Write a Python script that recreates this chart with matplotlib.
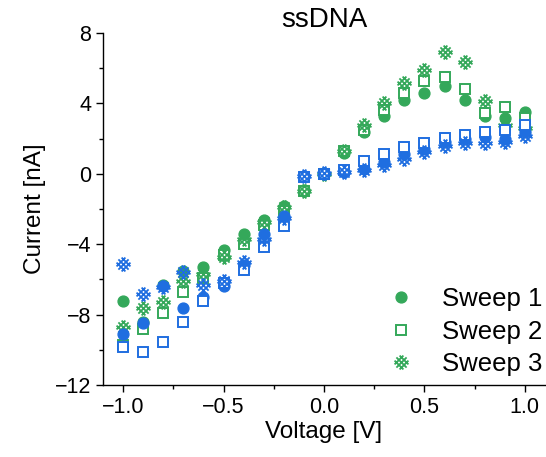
import numpy as np
import matplotlib
matplotlib.use('Agg')
import matplotlib.pyplot as plt
from matplotlib.path import Path
from matplotlib.ticker import MultipleLocator, FuncFormatter

plt.rcParams['font.family'] = ['Liberation Sans', 'DejaVu Sans']

# voltage sweep points
V = [-1.0, -0.9, -0.8, -0.7, -0.6, -0.5, -0.4, -0.3, -0.2, -0.1, 0.0,
     0.1, 0.2, 0.3, 0.4, 0.5, 0.6, 0.7, 0.8, 0.9, 1.0]

# green set
g_s1 = [-7.2, -8.4, -6.3, -5.5, -5.3, -4.3, -3.4, -2.6, -1.8, -0.9, 0.0,
        1.2, 2.35, 3.3, 4.2, 4.6, 5.0, 4.2, 3.3, 3.2, 3.5]
g_s2 = [-9.7, -8.8, -7.9, -6.7, -5.9, -4.6, -4.0, -2.9, -2.1, -1.0, 0.0,
        1.3, 2.5, 3.6, 4.6, 5.3, 5.5, 4.8, 3.45, 3.8, 3.2]
g_s3 = [-8.7, -7.6, -7.3, -6.1, -5.7, -4.7, -3.7, -2.75, -1.9, -1.0, 0.0,
        1.3, 2.8, 4.05, 5.15, 5.9, 6.95, 6.35, 4.15, 2.8, 2.6]
# blue set
b_s1 = [-9.1, -8.5, -6.4, -7.65, -7.0, -6.35, -5.2, -3.4, -2.4, -0.1, 0.0,
        0.1, 0.3, 0.7, 1.1, 1.4, 1.8, 2.0, 2.1, 2.0, 2.4]
b_s2 = [-9.85, -10.15, -9.55, -8.4, -7.25, -6.2, -5.45, -4.15, -2.95, -0.2, 0.0,
        0.2, 0.75, 1.15, 1.55, 1.75, 2.05, 2.2, 2.4, 2.5, 2.75]
b_s3 = [-5.1, -6.85, -6.45, -5.6, -6.3, -6.1, -5.0, -3.7, -2.5, -0.1, 0.05,
        0.1, 0.2, 0.5, 0.85, 1.25, 1.6, 1.75, 1.75, 1.8, 2.15]

GREEN = '#34a85a'
BLUE = '#1f6ee0'

# cross-hatched marker: diagonal lattice clipped to a circle
verts = []; codes = []
for c in (-0.7, 0.0, 0.7):
    for sgn in (1, -1):
        fx, fy = -sgn * c / 2, c / 2
        h = np.sqrt(max(1 - c * c / 2, 0))
        dx, dy = 1 / np.sqrt(2), sgn / np.sqrt(2)
        verts += [(fx - h * dx, fy - h * dy), (fx + h * dx, fy + h * dy)]
        codes += [Path.MOVETO, Path.LINETO]
hatchX = Path(verts, codes)

fig = plt.figure(figsize=(5.46, 4.57), dpi=100)
ax = fig.add_axes([0.1886, 0.1575, 0.8095, 0.7702])

def draw(col, s1, s2, s3, lab):
    ax.plot(V, s1, 'o', ms=7.8, color=col, mec=col, ls='none', label='Sweep 1' if lab else None)
    ax.plot(V, s2, 's', ms=6.6, mfc='white', mec=col, mew=1.4, ls='none', label='Sweep 2' if lab else None)
    ax.plot(V, s3, marker=hatchX, ms=10, mfc='none', mec=col, mew=1.3, ls='none', label='Sweep 3' if lab else None)

draw(GREEN, g_s1, g_s2, g_s3, True)
draw(BLUE, b_s1, b_s2, b_s3, False)

ax.set_xlim(-1.1, 1.1); ax.set_ylim(-12, 8)
ax.xaxis.set_major_locator(MultipleLocator(0.5)); ax.xaxis.set_minor_locator(MultipleLocator(0.25))
ax.yaxis.set_major_locator(MultipleLocator(4)); ax.yaxis.set_minor_locator(MultipleLocator(2))
ax.xaxis.set_major_formatter(FuncFormatter(lambda v, p: f'{v:.1f}'.replace('-', '\u2212')))
for s in ('top', 'right'): ax.spines[s].set_visible(False)
for s in ('left', 'bottom'): ax.spines[s].set_linewidth(1.0)
ax.tick_params(which='major', direction='out', length=5, width=1, labelsize=15.5)
ax.tick_params(which='minor', direction='out', length=3, width=1)
ax.set_xlabel('Voltage [V]', fontsize=17.5, labelpad=2)
ax.set_ylabel('Current [nA]', fontsize=17.5, labelpad=6)
ax.set_title('ssDNA', fontsize=20, pad=-2)
ax.legend(loc='lower right', frameon=False, fontsize=18.5, handletextpad=0.8, handlelength=1.6,
          labelspacing=0.33, borderaxespad=0.1, bbox_to_anchor=(1.023, -0.012))

fig.savefig('out.png', dpi=100)
